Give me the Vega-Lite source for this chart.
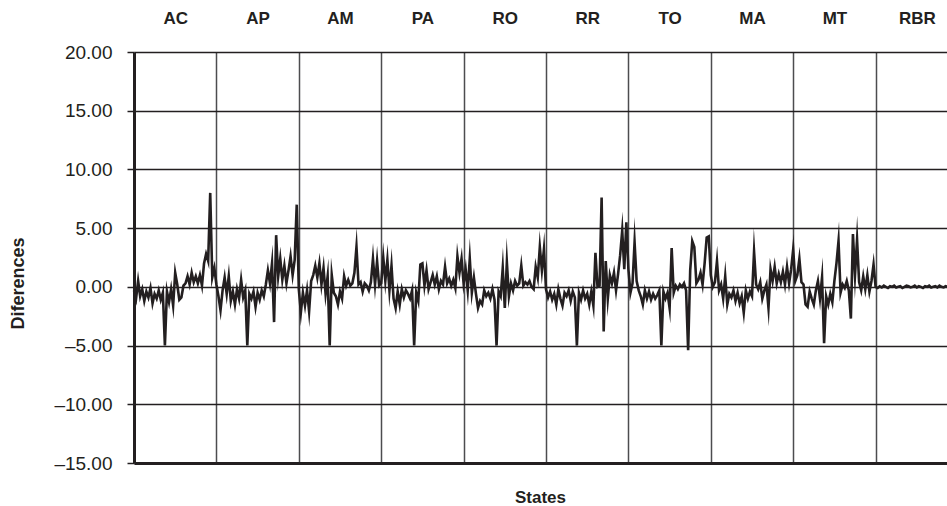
{
  "$schema": "https://vega.github.io/schema/vega-lite/v6.json",
  "width": 824,
  "height": 411,
  "autosize": {"type": "none"},
  "padding": {"left": 134, "top": 52, "right": 0, "bottom": 43},
  "background": "white",
  "config": {
    "view": {"stroke": null},
    "font": "Liberation Sans",
    "axis": {"labelFont": "Liberation Sans", "titleFont": "Liberation Sans"}
  },
  "datasets": {
    "states": [
      {"state": "AC", "c": 20}, {"state": "AP", "c": 60}, {"state": "AM", "c": 100}, {"state": "PA", "c": 140}, {"state": "RO", "c": 180},
      {"state": "RR", "c": 220}, {"state": "TO", "c": 260}, {"state": "MA", "c": 300}, {"state": "MT", "c": 340}, {"state": "RBR", "c": 380}
    ]
  },
  "resolve": {"axis": {"x": "independent"}},
  "layer": [
    {
      "data": {"values": [
        {"i":0,"d":-0.3},{"i":1,"d":-1.0},{"i":2,"d":0.5},{"i":3,"d":-0.8},{"i":4,"d":-0.2},{"i":5,"d":-1.2},{"i":6,"d":-0.4},{"i":7,"d":-0.9},{"i":8,"d":-0.1},{"i":9,"d":-1.4},
        {"i":10,"d":-0.6},{"i":11,"d":-1.0},{"i":12,"d":-0.3},{"i":13,"d":-1.1},{"i":14,"d":-0.5},{"i":15,"d":-5.0},{"i":16,"d":-0.4},{"i":17,"d":-1.3},{"i":18,"d":-0.2},{"i":19,"d":-1.6},
        {"i":20,"d":1.2},{"i":21,"d":0.2},{"i":22,"d":-1.1},{"i":23,"d":-0.9},{"i":24,"d":0.1},{"i":25,"d":0.3},{"i":26,"d":0.9},{"i":27,"d":0.2},{"i":28,"d":1.2},{"i":29,"d":0.4},
        {"i":30,"d":0.9},{"i":31,"d":0.3},{"i":32,"d":1.0},{"i":33,"d":0.1},{"i":34,"d":2.0},{"i":35,"d":2.8},{"i":36,"d":2.2},{"i":37,"d":8.0},{"i":38,"d":0.8},{"i":39,"d":1.6},
        {"i":40,"d":0.2},{"i":41,"d":-0.8},{"i":42,"d":-2.0},{"i":43,"d":-0.3},{"i":44,"d":0.8},{"i":45,"d":-0.6},{"i":46,"d":0.9},{"i":47,"d":-1.2},{"i":48,"d":-0.4},{"i":49,"d":-1.5},
        {"i":50,"d":-0.2},{"i":51,"d":-1.0},{"i":52,"d":0.6},{"i":53,"d":-0.9},{"i":54,"d":-0.3},{"i":55,"d":-5.0},{"i":56,"d":-0.6},{"i":57,"d":-1.0},{"i":58,"d":-0.4},{"i":59,"d":-1.7},
        {"i":60,"d":-0.5},{"i":61,"d":-1.1},{"i":62,"d":-0.3},{"i":63,"d":-0.8},{"i":64,"d":0.2},{"i":65,"d":1.4},{"i":66,"d":0.3},{"i":67,"d":2.0},{"i":68,"d":-3.0},{"i":69,"d":4.4},
        {"i":70,"d":0.9},{"i":71,"d":2.4},{"i":72,"d":0.6},{"i":73,"d":1.8},{"i":74,"d":0.3},{"i":75,"d":1.4},{"i":76,"d":2.6},{"i":77,"d":1.0},{"i":78,"d":2.3},{"i":79,"d":7.0},
        {"i":80,"d":-0.2},{"i":81,"d":-2.2},{"i":82,"d":-0.5},{"i":83,"d":-1.6},{"i":84,"d":-0.3},{"i":85,"d":-2.1},{"i":86,"d":0.5},{"i":87,"d":1.0},{"i":88,"d":1.8},{"i":89,"d":0.8},
        {"i":90,"d":2.0},{"i":91,"d":0.2},{"i":92,"d":1.6},{"i":93,"d":-0.6},{"i":94,"d":0.9},{"i":95,"d":-5.0},{"i":96,"d":1.0},{"i":97,"d":-0.5},{"i":98,"d":-0.8},{"i":99,"d":-1.5},
        {"i":100,"d":-0.4},{"i":101,"d":-1.0},{"i":102,"d":0.9},{"i":103,"d":0.1},{"i":104,"d":0.6},{"i":105,"d":0.1},{"i":106,"d":0.3},{"i":107,"d":1.2},{"i":108,"d":3.4},{"i":109,"d":0.2},
        {"i":110,"d":0.4},{"i":111,"d":-0.4},{"i":112,"d":0.3},{"i":113,"d":0.1},{"i":114,"d":-0.3},{"i":115,"d":0.4},{"i":116,"d":2.4},{"i":117,"d":0.2},{"i":118,"d":2.2},{"i":119,"d":0.1},
        {"i":120,"d":0.3},{"i":121,"d":2.5},{"i":122,"d":0.5},{"i":123,"d":2.3},{"i":124,"d":-0.3},{"i":125,"d":1.8},{"i":126,"d":-1.0},{"i":127,"d":-1.8},{"i":128,"d":-0.4},{"i":129,"d":-1.5},
        {"i":130,"d":-0.2},{"i":131,"d":-0.9},{"i":132,"d":-0.3},{"i":133,"d":-0.6},{"i":134,"d":-1.0},{"i":135,"d":-0.3},{"i":136,"d":-5.0},{"i":137,"d":-0.5},{"i":138,"d":-1.2},{"i":139,"d":1.9},
        {"i":140,"d":2.0},{"i":141,"d":0.1},{"i":142,"d":1.4},{"i":143,"d":-0.2},{"i":144,"d":0.4},{"i":145,"d":1.0},{"i":146,"d":0.2},{"i":147,"d":0.9},{"i":148,"d":-0.2},{"i":149,"d":0.5},
        {"i":150,"d":0.2},{"i":151,"d":1.7},{"i":152,"d":0.3},{"i":153,"d":0.7},{"i":154,"d":0.1},{"i":155,"d":0.6},{"i":156,"d":-0.1},{"i":157,"d":2.6},{"i":158,"d":1.2},{"i":159,"d":2.4},
        {"i":160,"d":0.3},{"i":161,"d":1.5},{"i":162,"d":-0.3},{"i":163,"d":2.4},{"i":164,"d":-0.5},{"i":165,"d":0.8},{"i":166,"d":-0.6},{"i":167,"d":-1.8},{"i":168,"d":-1.2},{"i":169,"d":-1.5},
        {"i":170,"d":-0.3},{"i":171,"d":-0.8},{"i":172,"d":-0.5},{"i":173,"d":-1.0},{"i":174,"d":-0.2},{"i":175,"d":-1.1},{"i":176,"d":-5.0},{"i":177,"d":-0.4},{"i":178,"d":-0.8},{"i":179,"d":1.6},
        {"i":180,"d":-1.8},{"i":181,"d":2.1},{"i":182,"d":-0.8},{"i":183,"d":0.3},{"i":184,"d":-0.3},{"i":185,"d":0.5},{"i":186,"d":0.1},{"i":187,"d":0.3},{"i":188,"d":1.8},{"i":189,"d":0.1},
        {"i":190,"d":0.4},{"i":191,"d":0.2},{"i":192,"d":0.5},{"i":193,"d":0.0},{"i":194,"d":-0.2},{"i":195,"d":1.7},{"i":196,"d":0.8},{"i":197,"d":3.4},{"i":198,"d":1.4},{"i":199,"d":3.2},
        {"i":200,"d":-0.2},{"i":201,"d":-0.9},{"i":202,"d":-0.4},{"i":203,"d":-1.1},{"i":204,"d":-0.6},{"i":205,"d":-1.5},{"i":206,"d":-0.2},{"i":207,"d":-1.0},{"i":208,"d":-1.6},{"i":209,"d":-0.5},
        {"i":210,"d":-0.8},{"i":211,"d":-0.3},{"i":212,"d":-1.2},{"i":213,"d":-0.4},{"i":214,"d":-0.9},{"i":215,"d":-5.0},{"i":216,"d":-0.5},{"i":217,"d":-1.1},{"i":218,"d":-0.3},{"i":219,"d":-1.0},
        {"i":220,"d":-0.6},{"i":221,"d":-1.5},{"i":222,"d":-0.4},{"i":223,"d":-1.6},{"i":224,"d":2.9},{"i":225,"d":0.0},{"i":226,"d":0.1},{"i":227,"d":7.6},{"i":228,"d":-3.8},{"i":229,"d":2.2},
        {"i":230,"d":-1.0},{"i":231,"d":1.0},{"i":232,"d":0.3},{"i":233,"d":1.2},{"i":234,"d":-0.3},{"i":235,"d":1.1},{"i":236,"d":2.7},{"i":237,"d":4.8},{"i":238,"d":1.5},{"i":239,"d":5.5},
        {"i":240,"d":1.5},{"i":241,"d":-0.5},{"i":242,"d":0.3},{"i":243,"d":3.8},{"i":244,"d":0.5},{"i":245,"d":-0.3},{"i":246,"d":-0.8},{"i":247,"d":-1.5},{"i":248,"d":-0.3},{"i":249,"d":-1.0},
        {"i":250,"d":-0.4},{"i":251,"d":-1.1},{"i":252,"d":-0.6},{"i":253,"d":-1.0},{"i":254,"d":-0.7},{"i":255,"d":-0.3},{"i":256,"d":-5.0},{"i":257,"d":-0.4},{"i":258,"d":-1.0},{"i":259,"d":-0.5},
        {"i":260,"d":-1.8},{"i":261,"d":3.3},{"i":262,"d":-0.5},{"i":263,"d":0.1},{"i":264,"d":-0.2},{"i":265,"d":0.2},{"i":266,"d":0.0},{"i":267,"d":0.3},{"i":268,"d":-0.3},{"i":269,"d":-5.4},
        {"i":270,"d":1.4},{"i":271,"d":3.9},{"i":272,"d":3.4},{"i":273,"d":0.3},{"i":274,"d":0.6},{"i":275,"d":1.2},{"i":276,"d":0.2},{"i":277,"d":2.0},{"i":278,"d":4.2},{"i":279,"d":4.3},
        {"i":280,"d":1.0},{"i":281,"d":0.0},{"i":282,"d":0.4},{"i":283,"d":2.2},{"i":284,"d":-0.3},{"i":285,"d":0.2},{"i":286,"d":-1.0},{"i":287,"d":0.9},{"i":288,"d":-1.5},{"i":289,"d":-0.6},
        {"i":290,"d":-0.9},{"i":291,"d":-0.3},{"i":292,"d":-1.2},{"i":293,"d":-0.5},{"i":294,"d":-1.4},{"i":295,"d":-0.8},{"i":296,"d":-2.2},{"i":297,"d":-0.3},{"i":298,"d":-1.0},{"i":299,"d":-0.4},
        {"i":300,"d":-0.8},{"i":301,"d":3.0},{"i":302,"d":0.2},{"i":303,"d":-0.2},{"i":304,"d":0.4},{"i":305,"d":-1.0},{"i":306,"d":-0.3},{"i":307,"d":0.2},{"i":308,"d":-1.8},{"i":309,"d":1.5},
        {"i":310,"d":0.5},{"i":311,"d":1.7},{"i":312,"d":0.3},{"i":313,"d":1.1},{"i":314,"d":0.4},{"i":315,"d":1.3},{"i":316,"d":0.2},{"i":317,"d":1.7},{"i":318,"d":0.3},{"i":319,"d":1.5},
        {"i":320,"d":3.2},{"i":321,"d":0.5},{"i":322,"d":1.0},{"i":323,"d":2.4},{"i":324,"d":0.4},{"i":325,"d":0.2},{"i":326,"d":-1.5},{"i":327,"d":-1.7},{"i":328,"d":-0.4},{"i":329,"d":-1.0},
        {"i":330,"d":-1.5},{"i":331,"d":-0.3},{"i":332,"d":0.5},{"i":333,"d":-1.0},{"i":334,"d":0.8},{"i":335,"d":-4.8},{"i":336,"d":-0.8},{"i":337,"d":-1.5},{"i":338,"d":-0.6},{"i":339,"d":-1.3},
        {"i":340,"d":0.5},{"i":341,"d":2.0},{"i":342,"d":3.9},{"i":343,"d":-0.5},{"i":344,"d":0.2},{"i":345,"d":-0.1},{"i":346,"d":0.5},{"i":347,"d":-0.3},{"i":348,"d":-2.7},{"i":349,"d":4.5},
        {"i":350,"d":1.0},{"i":351,"d":4.0},{"i":352,"d":0.4},{"i":353,"d":-0.3},{"i":354,"d":0.9},{"i":355,"d":-0.2},{"i":356,"d":1.0},{"i":357,"d":-0.4},{"i":358,"d":0.5},{"i":359,"d":1.9},
        {"i":360,"d":0.0},{"i":361,"d":-0.1},{"i":362,"d":0.05},{"i":363,"d":-0.05},{"i":364,"d":0.1},{"i":365,"d":0.0},{"i":366,"d":-0.1},{"i":367,"d":0.05},{"i":368,"d":0.0},{"i":369,"d":0.1},
        {"i":370,"d":-0.05},{"i":371,"d":0.0},{"i":372,"d":0.05},{"i":373,"d":-0.1},{"i":374,"d":0.0},{"i":375,"d":0.1},{"i":376,"d":0.05},{"i":377,"d":-0.05},{"i":378,"d":0.0},{"i":379,"d":0.1},
        {"i":380,"d":-0.05},{"i":381,"d":0.05},{"i":382,"d":0.0},{"i":383,"d":-0.1},{"i":384,"d":0.05},{"i":385,"d":0.0},{"i":386,"d":0.1},{"i":387,"d":-0.05},{"i":388,"d":0.0},{"i":389,"d":0.05},
        {"i":390,"d":-0.05},{"i":391,"d":0.1},{"i":392,"d":0.0},{"i":393,"d":-0.05},{"i":394,"d":0.05},{"i":395,"d":0.0},{"i":396,"d":0.1},{"i":397,"d":0.0},{"i":398,"d":-0.05},{"i":399,"d":0.05}
      ]},
      "mark": {"type": "line", "color": "#231f20", "strokeWidth": 2.6, "strokeJoin": "miter", "strokeMiterLimit": 20},
      "encoding": {
        "x": {
          "field": "i", "type": "quantitative",
          "scale": {"domain": [0, 400], "nice": false, "zero": false},
          "axis": {
            "orient": "bottom",
            "values": [40, 80, 120, 160, 200, 240, 280, 320, 360],
            "grid": true, "gridColor": "#4d4d4f", "gridWidth": 1.5,
            "labels": false, "ticks": false,
            "domain": true, "domainColor": "#231f20", "domainWidth": 3,
            "title": "States", "titleFontSize": 17, "titleFontWeight": "bold", "titleColor": "#231f20",
            "titleX": 406, "titleY": 34, "titleBaseline": "middle", "titleAlign": "center"
          }
        },
        "y": {
          "field": "d", "type": "quantitative",
          "scale": {"domain": [-15, 20], "nice": false, "zero": false},
          "axis": {
            "values": [-15, -10, -5, 0, 5, 10, 15, 20],
            "labelExpr": "datum.value < 0 ? '–' + format(-datum.value, '.2f') : format(datum.value, '.2f')",
            "labelFontSize": 19, "labelColor": "#231f20", "labelPadding": 15,
            "tickSize": 7, "tickColor": "#231f20", "tickWidth": 1.5,
            "grid": true, "gridColor": "#231f20", "gridWidth": 1.5,
            "domain": true, "domainColor": "#231f20", "domainWidth": 3,
            "title": "Diferences", "titleFontSize": 18, "titleFontWeight": "bold", "titleColor": "#231f20",
            "titleX": -116, "titleY": 231, "titleAngle": -90, "titleAlign": "center", "titleBaseline": "middle"
          }
        }
      }
    },
    {
      "data": {"name": "states"},
      "mark": {"type": "point", "opacity": 0},
      "encoding": {
        "x": {
          "field": "c", "type": "quantitative",
          "axis": {
            "orient": "top",
            "values": [20, 60, 100, 140, 180, 220, 260, 300, 340, 380],
            "labelExpr": "['AC','AP','AM','PA','RO','RR','TO','MA','MT','RBR'][floor(datum.value / 40)]",
            "labelFontSize": 17, "labelFontWeight": "bold", "labelColor": "#231f20",
            "labelPadding": 25, "ticks": false, "tickSize": 0, "domain": false, "grid": false, "title": null
          }
        },
        "y": {"datum": 0}
      }
    }
  ]
}
